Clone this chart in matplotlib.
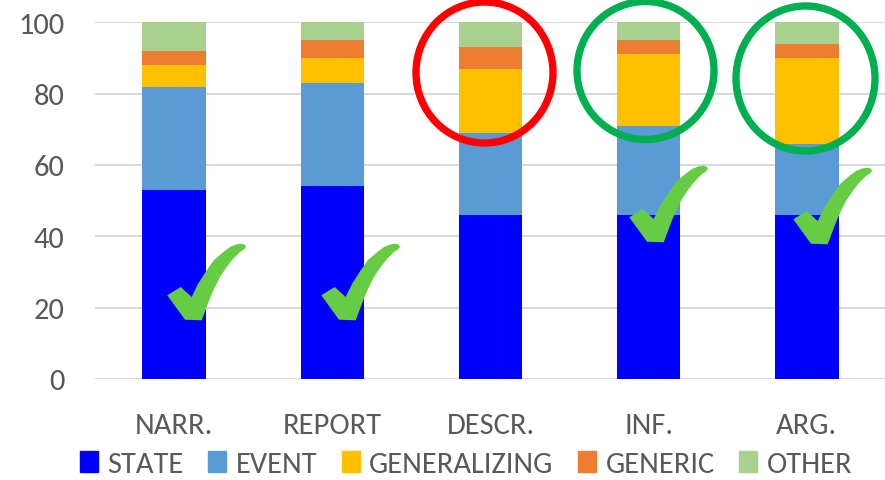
import matplotlib
matplotlib.use("Agg")
import matplotlib.pyplot as plt
from matplotlib.patches import Rectangle, Ellipse, Polygon
from matplotlib import font_manager
import numpy as np

categories = ["NARR.", "REPORT", "DESCR.", "INF.", "ARG."]
series_names = ["STATE", "EVENT", "GENERALIZING", "GENERIC", "OTHER"]
state = [53, 54, 46, 46, 46]
event = [29, 29, 23, 25, 20]
generalizing = [6, 7, 18, 20, 24]
generic = [4, 5, 6, 4, 4]
other = [8, 5, 7, 5, 6]
yticks = [0, 20, 40, 60, 80, 100]

colors = ["#0000ff", "#5b9bd5", "#ffc000", "#ed7d31", "#a9d18e"]
text_color = "#595959"

avail = {f.name for f in font_manager.fontManager.ttflist}
fam = "Carlito" if "Carlito" in avail else "Lato"
plt.rcParams["font.family"] = [fam, "DejaVu Sans"]

W, H = 885, 481
fig = plt.figure(figsize=(W / 100, H / 100), dpi=100)
ax = fig.add_axes([95 / W, 1 - 380 / H, (886 - 95) / W, (380 - 23.3) / H])

x = np.arange(len(categories))
bottom = np.zeros(len(categories))
for name, vals, c in zip(series_names, [state, event, generalizing, generic, other], colors):
    ax.bar(x, vals, width=0.4, bottom=bottom, color=c, zorder=2, label=name)
    bottom += np.array(vals)

ax.set_xlim(-0.5, len(categories) - 0.5)
ax.set_ylim(0, 100)
ax.set_yticks(yticks)
ax.set_xticks(x)
ax.set_xticklabels(categories)
ax.yaxis.grid(True, color="#d9d9d9", linewidth=1.5, zorder=0)
ax.set_axisbelow(True)
for s in ax.spines.values():
    s.set_visible(False)
ax.tick_params(axis="y", length=0, pad=22, labelsize=22, labelcolor=text_color)
ax.tick_params(axis="x", length=0, pad=24, labelsize=22, labelcolor=text_color)

handles = [Rectangle((0, 0), 1, 1, color=c) for c in colors]
fig.legend(handles, series_names, loc="center", bbox_to_anchor=(466 / W, 1 - 465 / H),
           ncol=5, frameon=False, fontsize=22, labelcolor=text_color,
           handlelength=0.6, handleheight=0.7, handletextpad=0.3, columnspacing=0.8,
           borderpad=0, borderaxespad=0)

# annotation circles
def ellipse(cx, cy, w, h, col):
    e = Ellipse((cx / W, 1 - cy / H), w / W, h / H, transform=fig.transFigure,
                fill=False, edgecolor=col, linewidth=5.3, zorder=5)
    fig.add_artist(e)

ellipse(484.5, 73.5, 137, 141, "#ff0000")
ellipse(645.5, 71.5, 137, 138, "#00b050")
ellipse(805.5, 79.5, 139, 145, "#00b050")

# check marks (shape in pixel offsets within an 80x78 box)
check_shape = [(0.3, 53.3), (13.7, 45), (24.7, 55), (31, 42), (39.7, 28.3),
               (47, 18), (56.3, 10), (63, 5), (69.7, 2.3), (74.7, 1.7),
               (78, 2.8), (79, 5), (77, 7.5), (73, 10), (66, 17), (59.7, 25),
               (53, 35), (48, 45), (43.5, 55), (39.7, 65), (34.7, 78.3), (18, 77.7)]
for ox, oy in [(167, 243), (321, 243), (629, 165), (793, 167)]:
    pts = [((ox + dx) / W, 1 - (oy + dy) / H) for dx, dy in check_shape]
    fig.add_artist(Polygon(pts, closed=True, transform=fig.transFigure,
                           facecolor="#66cc44", edgecolor="none", zorder=6))

fig.savefig("out.png", dpi=100)
